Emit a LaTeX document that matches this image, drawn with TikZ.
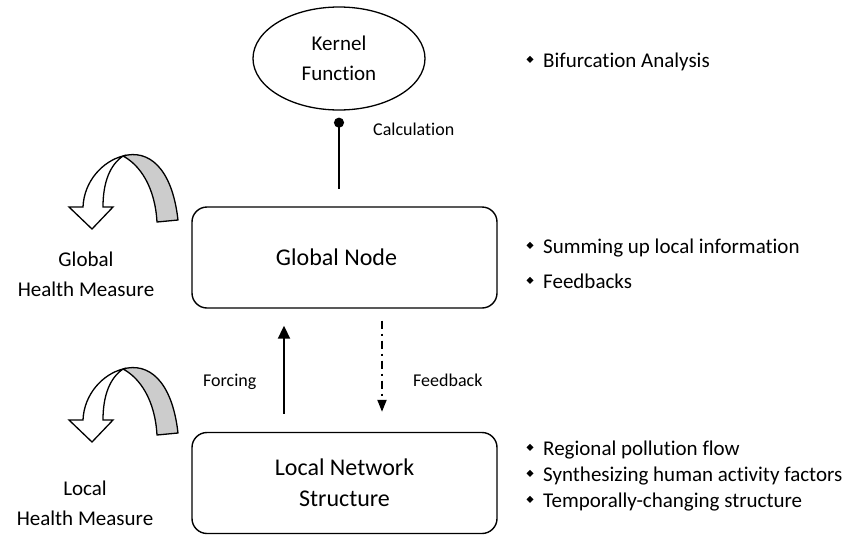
\documentclass[tikz,border=0pt]{standalone}
\usepackage{fontspec}
\setmainfont{Carlito}[Ligatures=NoCommon]
\usetikzlibrary{arrows.meta,shapes.geometric}
\definecolor{bandgray}{RGB}{204,204,204}

\tikzset{
  bigtxt/.style={font=\fontsize{24}{31}\selectfont},
  midtxt/.style={font=\fontsize{21}{30}\selectfont},
  smalltxt/.style={font=\fontsize{18}{22}\selectfont},
  roundbox/.style={draw, line width=1.4pt, rounded corners=15pt,
    minimum width=305pt, minimum height=101pt, inner sep=0pt,
    bigtxt, align=center},
  kernelshape/.style={draw, ellipse, line width=1.3pt,
    minimum width=172pt, minimum height=103pt, inner sep=0pt,
    midtxt, align=center},
  sidelabel/.style={midtxt, align=center, inner sep=0pt},
  itemtext/.style={midtxt, anchor=base west, inner sep=0pt},
  linklabel/.style={smalltxt, anchor=base west, inner sep=0pt},
  forcearrow/.style={line width=2pt, -{Triangle[width=12pt,length=13pt]}},
  feedarrow/.style={line width=2pt, dash pattern=on 8pt off 5pt on 2pt off 5pt,
    -{Triangle[width=9pt,length=12pt]}},
  calcline/.style={line width=2pt, {Circle[length=10pt]}-},
  bulletmark/.pic={\fill (-3.5,0) -- (0,-3.5) -- (3.5,0) -- (0,3.5) -- cycle;},
  turnarrow/.pic={
    % shaded back face of the ribbon
    \filldraw[fill=bandgray, line width=1.3pt, line join=round]
      (0,0) .. controls (25,-7) and (49,11) .. (55,64) -- (34,66)
      .. controls (32,31) and (17,9) .. (0,0) -- cycle;
    % white front face ending in the arrow head
    \filldraw[fill=white, line width=1.3pt, line join=miter]
      (0,0) .. controls (-20,5) and (-39,25) .. (-40,51) -- (-54,51)
      -- (-31,73) -- (-10,51) -- (-20,51)
      .. controls (-20,26) and (-13,9) .. (0,0) -- cycle;
  }
}

\begin{document}
\begin{tikzpicture}[x=1pt, y=-1pt]
  \useasboundingbox (0,0) rectangle (855,536);

  % main nodes
  \node[kernelshape] (kf) at (339,58.5) {Kernel\\Function};
  \node[roundbox] (gn) at (344.5,257.5) {\hspace*{-16pt}Global Node};
  \node[roundbox] (ln) at (344.5,483) {Local Network\\Structure};

  % connectors
  \draw[calcline, shorten <=7pt, shorten >=17pt] (kf.south) -- (kf.south |- gn.north);
  \draw[forcearrow, shorten <=18pt, shorten >=17pt]
    ([xshift=-60.5pt]ln.north) -- ([xshift=-60.5pt]gn.south);
  \draw[feedarrow, shorten <=12pt, shorten >=20pt]
    ([xshift=37.5pt]gn.south) -- ([xshift=37.5pt]ln.north);

  % connector labels
  \node[linklabel] (calc) at (373,135) {Calculation};
  \node[linklabel] (forc) at (203,386) {Forcing};
  \node[linklabel] (feed) at (413,386) {Feedback};

  % health measures with turning arrows
  \pic at (123,156) {turnarrow};
  \pic at (123,369) {turnarrow};
  \node[sidelabel] (gh) at (86,274) {Global\\Health Measure};
  \node[sidelabel] (lh) at (85,503) {Local\\Health Measure};

  % bullet lists
  \node[itemtext] (b1) at (543,67) {Bifurcation Analysis};
  \node[itemtext] (b2) at (543,253) {Summing up local information};
  \node[itemtext] (b3) at (543,288) {Feedbacks};
  \node[itemtext] (b4) at (543,455) {Regional pollution flow};
  \node[itemtext] (b5) at (543,481) {Synthesizing human activity factors};
  \node[itemtext] (b6) at (543,507) {Temporally-changing structure};
  \foreach \b in {b1,b2,b3,b4,b5,b6}
    \pic at ([xshift=-13pt,yshift=7.7pt]\b.base west) {bulletmark};
\end{tikzpicture}
\end{document}
